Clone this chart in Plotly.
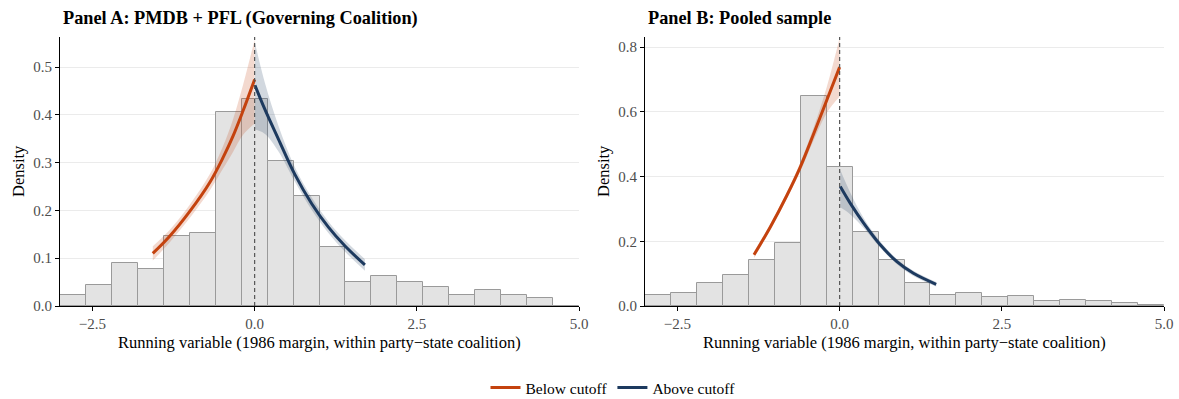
import plotly.graph_objects as go

# ---------------- data ----------------
bin_mid = [-2.8, -2.4, -2.0, -1.6, -1.2, -0.8, -0.4, 0.0, 0.4, 0.8, 1.2, 1.6,
           2.0, 2.4, 2.8, 3.2, 3.6, 4.0, 4.4, 4.8]
bin_width = 0.4

dens_a = [0.022, 0.045, 0.090, 0.078, 0.146, 0.152, 0.405, 0.434, 0.303, 0.230,
          0.123, 0.050, 0.062, 0.050, 0.039, 0.022, 0.034, 0.022, 0.016, 0.0]
dens_b = [0.035, 0.041, 0.070, 0.095, 0.142, 0.196, 0.650, 0.428, 0.228, 0.142,
          0.070, 0.035, 0.039, 0.027, 0.032, 0.015, 0.018, 0.015, 0.008, 0.004]

# Panel A fitted densities
a_below_x = [-1.57, -1.31, -1.00, -0.694, -0.489, -0.335, -0.18, 0.0]
a_below_y = [0.110, 0.146, 0.198, 0.258, 0.310, 0.355, 0.408, 0.474]
a_below_lo = [0.095, 0.133, 0.184, 0.241, 0.287, 0.322, 0.358, 0.382]
a_below_hi = [0.125, 0.159, 0.212, 0.275, 0.334, 0.390, 0.462, 0.557]

a_above_x = [0.005, 0.16, 0.365, 0.622, 0.88, 1.137, 1.39, 1.70]
a_above_y = [0.462, 0.411, 0.350, 0.275, 0.214, 0.165, 0.126, 0.086]
a_above_lo = [0.370, 0.360, 0.324, 0.260, 0.201, 0.153, 0.114, 0.074]
a_above_hi = [0.551, 0.466, 0.378, 0.290, 0.227, 0.177, 0.138, 0.098]

# Panel B fitted densities
b_below_x = [-1.32, -1.066, -0.81, -0.605, -0.40, -0.194, 0.0]
b_below_y = [0.158, 0.245, 0.343, 0.430, 0.532, 0.638, 0.738]
b_below_lo = [0.148, 0.236, 0.333, 0.417, 0.512, 0.598, 0.647]
b_below_hi = [0.168, 0.254, 0.353, 0.443, 0.552, 0.680, 0.828]

b_above_x = [0.01, 0.165, 0.37, 0.626, 0.883, 1.138, 1.488]
b_above_y = [0.369, 0.317, 0.256, 0.189, 0.137, 0.101, 0.067]
b_above_lo = [0.305, 0.283, 0.241, 0.180, 0.129, 0.093, 0.060]
b_above_hi = [0.420, 0.350, 0.272, 0.199, 0.145, 0.109, 0.074]

# ---------------- style ----------------
FONT = "Liberation Serif"
ORANGE = "#C4420E"
NAVY = "#1D3A5F"
ORANGE_BAND = "rgba(196,66,14,0.20)"
NAVY_BAND = "rgba(29,58,95,0.20)"
BAR_FILL = "#E3E3E3"
BAR_LINE = "#9A9A9A"
TICK_COL = "#4D4D4D"

fig = go.Figure()


def add_panel(xa, ya, dens, panels, show_leg):
    fig.add_trace(go.Bar(
        x=bin_mid, y=dens, width=bin_width, xaxis=xa, yaxis=ya,
        marker=dict(color=BAR_FILL, line=dict(color=BAR_LINE, width=1)),
        showlegend=False, hoverinfo="skip"))
    for (xs, ys, lo, hi, col, band, name) in panels:
        fig.add_trace(go.Scatter(
            x=xs, y=hi, xaxis=xa, yaxis=ya, mode="lines",
            line=dict(width=0, shape="spline"), showlegend=False,
            hoverinfo="skip"))
        fig.add_trace(go.Scatter(
            x=xs, y=lo, xaxis=xa, yaxis=ya, mode="lines",
            line=dict(width=0, shape="spline"), fill="tonexty",
            fillcolor=band, showlegend=False, hoverinfo="skip"))
    for (xs, ys, lo, hi, col, band, name) in panels:
        fig.add_trace(go.Scatter(
            x=xs, y=ys, xaxis=xa, yaxis=ya, mode="lines", name=name,
            line=dict(color=col, width=3, shape="spline"),
            showlegend=show_leg))


add_panel("x", "y", dens_a, [
    (a_below_x, a_below_y, a_below_lo, a_below_hi, ORANGE, ORANGE_BAND, "Below cutoff"),
    (a_above_x, a_above_y, a_above_lo, a_above_hi, NAVY, NAVY_BAND, "Above cutoff"),
], True)
add_panel("x2", "y2", dens_b, [
    (b_below_x, b_below_y, b_below_lo, b_below_hi, ORANGE, ORANGE_BAND, "Below cutoff"),
    (b_above_x, b_above_y, b_above_lo, b_above_hi, NAVY, NAVY_BAND, "Above cutoff"),
], False)

W, H = 1179, 399
ytop, ybot = 37, 306
ydom = [(H - ybot) / H, (H - ytop) / H]
xa_px = (60, 579)
xb_px = (645, 1164)

xtitle = "Running variable (1986 margin, within party\u2212state coalition)"

common_x = dict(range=[-3.0, 5.0], tickvals=[-2.5, 0.0, 2.5, 5.0],
                ticktext=["\u22122.5", "0.0", "2.5", "5.0"],
                showgrid=False, zeroline=False, showline=True,
                linecolor="black", linewidth=1, ticks="outside",
                ticklen=4, tickcolor="black", automargin=False,
                tickfont=dict(family=FONT, size=15, color=TICK_COL))
common_y = dict(showgrid=True, gridcolor="#EBEBEB", gridwidth=1, zeroline=False,
                showline=True, linecolor="black", linewidth=1, ticks="outside",
                ticklen=4, tickcolor="black", domain=ydom, automargin=False,
                tickfont=dict(family=FONT, size=15, color=TICK_COL))


def px(v):
    return v / W


title_font = dict(family=FONT, size=18.3, color="black")
axt_font = dict(family=FONT, size=16.5, color="black")

fig.update_layout(
    width=W, height=H,
    margin=dict(l=0, r=0, t=0, b=0, autoexpand=False),
    paper_bgcolor="white", plot_bgcolor="white",
    barmode="overlay", bargap=0,
    font=dict(family=FONT, size=15, color="black"),
    xaxis=dict(domain=[px(xa_px[0]), px(xa_px[1])], anchor="y", **common_x),
    xaxis2=dict(domain=[px(xb_px[0]), px(xb_px[1])], anchor="y2", **common_x),
    yaxis=dict(anchor="x", range=[0, 0.563],
               tickvals=[0.0, 0.1, 0.2, 0.3, 0.4, 0.5],
               ticktext=["0.0", "0.1", "0.2", "0.3", "0.4", "0.5"], **common_y),
    yaxis2=dict(anchor="x2", range=[0, 0.831],
                tickvals=[0.0, 0.2, 0.4, 0.6, 0.8],
                ticktext=["0.0", "0.2", "0.4", "0.6", "0.8"], **common_y),
    legend=dict(orientation="h", x=px(613), xanchor="center", y=(H - 388) / H,
                yanchor="middle", traceorder="normal",
                font=dict(family=FONT, size=15.5, color="black"),
                itemwidth=30, bgcolor="rgba(0,0,0,0)"),
    shapes=[
        dict(type="line", xref="x", yref="y domain", x0=0, x1=0, y0=0, y1=1,
             line=dict(color="#555555", width=1.2, dash="4px,3px")),
        dict(type="line", xref="x2", yref="y2 domain", x0=0, x1=0, y0=0, y1=1,
             line=dict(color="#555555", width=1.2, dash="4px,3px")),
    ],
    annotations=[
        dict(text="<b>Panel A: PMDB + PFL (Governing Coalition)</b>", xref="paper",
             yref="paper", x=px(61), y=(H - 18) / H, xanchor="left", yanchor="middle",
             showarrow=False, font=title_font),
        dict(text="<b>Panel B: Pooled sample</b>", xref="paper",
             yref="paper", x=px(646), y=(H - 18) / H, xanchor="left", yanchor="middle",
             showarrow=False, font=title_font),
        dict(text=xtitle, xref="paper", yref="paper", x=px(sum(xa_px) / 2),
             y=(H - 342) / H, xanchor="center", yanchor="middle", showarrow=False,
             font=axt_font),
        dict(text=xtitle, xref="paper", yref="paper", x=px(sum(xb_px) / 2),
             y=(H - 342) / H, xanchor="center", yanchor="middle", showarrow=False,
             font=axt_font),
        dict(text="Density", xref="paper", yref="paper", x=px(18),
             y=(H - 171) / H, xanchor="center", yanchor="middle", showarrow=False,
             textangle=-90, font=axt_font),
        dict(text="Density", xref="paper", yref="paper", x=px(603),
             y=(H - 171) / H, xanchor="center", yanchor="middle", showarrow=False,
             textangle=-90, font=axt_font),
    ],
)

fig.write_html(
    "out.html",
    config={"displayModeBar": False},
    post_script="document.body.style.margin='0';document.body.style.overflow='hidden';",
)
